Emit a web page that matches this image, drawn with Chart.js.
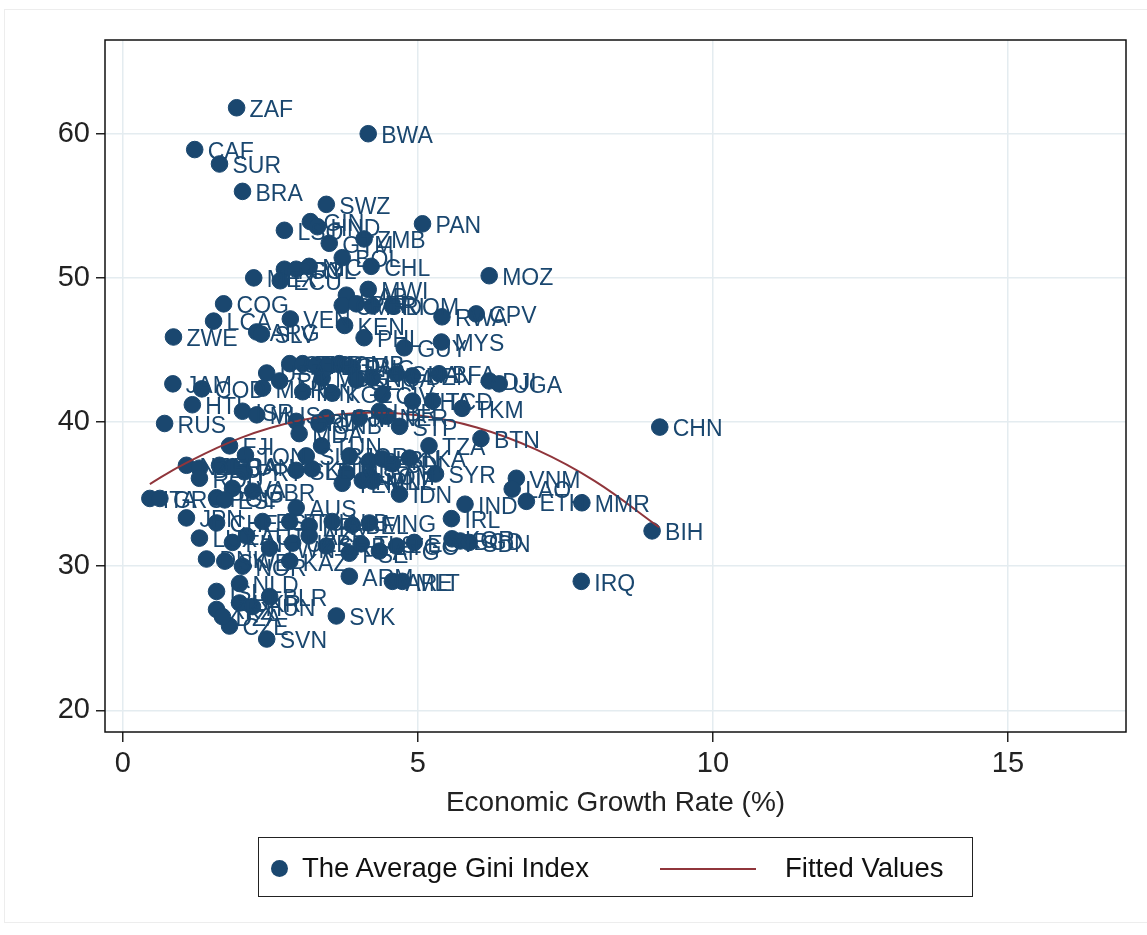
<!DOCTYPE html>
<html>
<head>
<meta charset="utf-8">
<script src="https://cdn.jsdelivr.net/npm/chart.js@4.4.1/dist/chart.umd.min.js"></script>
<style>
  html, body { margin: 0; padding: 0; background: #fff; }
  #wrap { position: relative; width: 1147px; height: 935px; }
  #frame { position: absolute; left: 4px; top: 9px; right: 0; bottom: 12px; border: 1px solid #ededed; border-right: none; }
  #legend {
    position: absolute; left: 258px; top: 837px; width: 715px; height: 60px;
    border: 1.5px solid #222; box-sizing: border-box;
    font-family: "Liberation Sans", Arial, sans-serif; font-size: 27.5px; color: #111;
  }
  #legend .dot { position: absolute; left: 12px; top: 22px; width: 17px; height: 17px; border-radius: 50%; background: #1a476f; }
  #legend .t1 { position: absolute; left: 43px; top: 14px; }
  #legend .ln { position: absolute; left: 401px; top: 30px; width: 96px; height: 2px; background: #90353b; }
  #legend .t2 { position: absolute; left: 526px; top: 14px; }
</style>
</head>
<body>
<div id="wrap">
  <div id="frame"></div>
  <canvas id="chart" width="1147" height="935"></canvas>
  <div id="legend">
    <span class="dot"></span><span class="t1">The Average Gini Index</span>
    <span class="ln"></span><span class="t2">Fitted Values</span>
  </div>
</div>
<script>
// country codes, growth rate (%), average Gini
const countries = ['ZAF','BWA','CAF','SUR','BRA','SWZ','PAN','LSO','GIN','HND','GTM','ZMB','BOL','CHL','PRY','COL','NIC','MOZ','MEX','ECU',
  'MWI','COG','GAB','CMR','PER','CRI','DOM','RWA','CPV','LCA','VEN','KEN','ZWE','ARG','SLV','PHL','GUY','MYS','GEO','TUR',
  'MKD','BGR','GMB','PNG','USA','TJK','MDG','SEN','NGA','GHA','BEN','BFA','DJI','UGA','JAM','COD','MAR','KGZ','HTI','ISR',
  'MUS','IRN','CIV','THA','TCD','TKM','RUS','GRD','MRT','MLI','NER','STP','MDA','FJI','TUN','TZA','BTN','TON','JOR','PAK',
  'LBN','LKA','BDI','NZL','DEU','FRA','CAN','PRT','SLE','KHM','MDV','SYR','VNM','LAO','ETH','MMR','BIH','CHN','IRQ','IND',
  'IDN','YEM','MNE','ROU','LVA','ITA','GRC','POL','ESP','GBR','AUS','JPN','CHE','EST','LTU','HRV','ALB','BEL','MNG','IRL',
  'LUX','FIN','AUT','TWN','UZB','AZE','SRB','PSE','TLS','AFG','TGO','EGY','KOR','BGD','SDN','DNK','SWE','NOR','KAZ','ARM',
  'ARE','MLT','NLD','ISL','BLR','UKR','HUN','XKX','CZE','SVN','SVK','DZA','GNB','LBR','SOM','NPL','SLB'];
const growth = [1.93,4.16,1.22,1.64,2.03,3.45,5.08,2.74,3.18,3.30,3.50,4.09,3.72,4.21,2.74,2.94,3.16,6.21,2.22,2.67,
  4.16,1.71,3.79,3.72,3.96,4.23,4.57,5.41,5.99,1.54,2.84,3.76,0.86,2.27,2.35,4.09,4.77,5.40,2.83,3.05,
  3.28,3.47,3.67,3.89,2.44,2.66,3.38,3.96,4.23,4.64,4.91,5.36,6.21,6.38,0.85,1.34,2.37,3.55,1.18,2.03,
  2.27,3.05,4.40,4.91,5.25,5.75,0.71,2.94,3.45,4.01,4.47,4.69,2.99,1.81,3.37,5.19,6.07,2.08,3.84,4.18,
  4.40,4.86,4.57,1.08,1.30,1.64,1.86,2.06,2.94,3.21,3.79,5.30,6.67,6.60,6.84,7.78,8.97,9.10,7.77,5.80,
  4.69,3.72,4.23,1.30,1.86,0.46,0.63,1.59,1.73,2.20,2.94,1.08,1.59,2.37,2.83,3.16,3.55,3.89,4.18,5.57,
  1.30,1.86,2.10,2.49,2.88,3.16,3.45,3.84,4.04,4.35,4.64,4.94,5.58,5.72,5.87,1.42,1.73,2.03,2.83,3.84,
  4.57,4.74,1.98,1.59,2.49,1.98,2.20,1.59,1.81,2.44,3.62,1.69,3.33,4.35,4.18,4.06,3.11];
const gini = [61.8,60.0,58.9,57.9,56.0,55.1,53.75,53.3,53.9,53.55,52.4,52.7,51.4,50.8,50.6,50.6,50.8,50.15,50.0,49.8,
  49.2,48.2,48.8,48.1,48.2,48.05,48.05,47.3,47.5,47.0,47.15,46.7,45.9,46.25,46.1,45.85,45.15,45.55,44.05,44.05,
  43.95,43.9,44.05,43.8,43.4,42.85,43.05,42.9,43.05,43.35,43.2,43.35,42.85,42.65,42.65,42.3,42.35,42.0,41.2,40.75,
  40.5,42.1,41.9,41.45,41.45,40.95,39.9,40.05,40.3,40.3,40.4,39.7,39.2,38.35,38.35,38.35,38.85,37.7,37.65,37.3,
  37.45,37.5,37.1,37.0,36.8,37.0,36.9,36.55,36.65,36.75,36.45,36.4,36.1,35.35,34.5,34.4,32.45,39.65,28.95,34.3,
  35.0,35.75,35.9,36.1,35.4,34.7,34.7,34.75,34.6,35.2,34.05,33.35,33.0,33.1,33.1,32.8,33.1,32.85,33.0,33.3,
  31.95,31.65,32.1,31.25,31.6,32.1,31.4,30.9,31.55,31.05,31.4,31.65,31.9,31.75,31.65,30.5,30.35,30.0,30.35,29.3,
  28.95,28.95,28.8,28.25,27.9,27.45,27.2,27.0,25.85,24.95,26.55,26.5,39.85,40.75,36.25,35.95,37.65];

// fitted values
const fitX = [0.46, 1, 2, 3, 4, 5, 6, 7, 8, 9.09];
const fitY = [35.7, 37.0, 38.9, 40.1, 40.63, 40.47, 39.62, 38.1, 35.9, 32.7];

const xTicks = [0, 5, 10, 15];
const yTicks = [20, 30, 40, 50, 60];

const navy = '#1a476f';
const red = '#90353b';
const font = "'Liberation Sans', Arial, sans-serif";

const points = countries.map((c, i) => ({ x: growth[i], y: gini[i], label: c }));
const fitted = fitX.map((x, i) => ({ x: x, y: fitY[i] }));

// frame round the plot area + country labels
const extras = {
  id: 'extras',
  afterDatasetsDraw(chart) {
    const ctx = chart.ctx;
    const meta = chart.getDatasetMeta(1);
    ctx.save();
    ctx.font = '23px ' + font;
    ctx.fillStyle = navy;
    ctx.textBaseline = 'middle';
    meta.data.forEach((el, i) => {
      ctx.fillText(points[i].label, el.x + 13, el.y + 3);
    });
    ctx.restore();
  },
  afterDraw(chart) {
    const a = chart.chartArea;
    const ctx = chart.ctx;
    ctx.save();
    ctx.strokeStyle = '#111';
    ctx.lineWidth = 1.5;
    ctx.strokeRect(a.left, a.top, a.right - a.left, a.bottom - a.top);
    ctx.restore();
  }
};

new Chart(document.getElementById('chart'), {
  type: 'scatter',
  data: {
    datasets: [
      {
        type: 'line',
        label: 'Fitted Values',
        data: fitted,
        borderColor: red,
        borderWidth: 2,
        pointRadius: 0,
        tension: 0.4,
        fill: false,
        order: 0
      },
      {
        label: 'The Average Gini Index',
        data: points,
        backgroundColor: navy,
        borderColor: navy,
        pointRadius: 8.3,
        order: 1
      }
    ]
  },
  plugins: [extras],
  options: {
    responsive: false,
    animation: false,
    layout: { padding: { left: 0, right: 21, top: 40, bottom: 110 } },
    plugins: {
      legend: { display: false },
      tooltip: { enabled: false }
    },
    scales: {
      x: {
        type: 'linear',
        min: -0.3,
        max: 17,
        afterBuildTicks: (s) => { s.ticks = xTicks.map(v => ({ value: v })); },
        afterFit: (s) => { s.height = 93; },
        grid: { color: '#e4ecf0', lineWidth: 1.5, tickColor: '#222', tickLength: 10, drawTicks: true },
        border: { display: false },
        ticks: { color: '#222', font: { family: font, size: 29 }, padding: 5 },
        title: {
          display: true,
          text: 'Economic Growth Rate (%)',
          color: '#222',
          font: { family: font, size: 28 },
          padding: { top: 4, bottom: 5 }
        }
      },
      y: {
        type: 'linear',
        min: 18.5,
        max: 66.5,
        afterBuildTicks: (s) => { s.ticks = yTicks.map(v => ({ value: v })); },
        afterFit: (s) => { s.width = 105; },
        grid: { color: '#e4ecf0', lineWidth: 1.5, tickColor: '#222', tickLength: 9, drawTicks: true },
        border: { display: false },
        ticks: { color: '#222', font: { family: font, size: 29 }, padding: 6 }
      }
    }
  }
});
</script>
</body>
</html>
